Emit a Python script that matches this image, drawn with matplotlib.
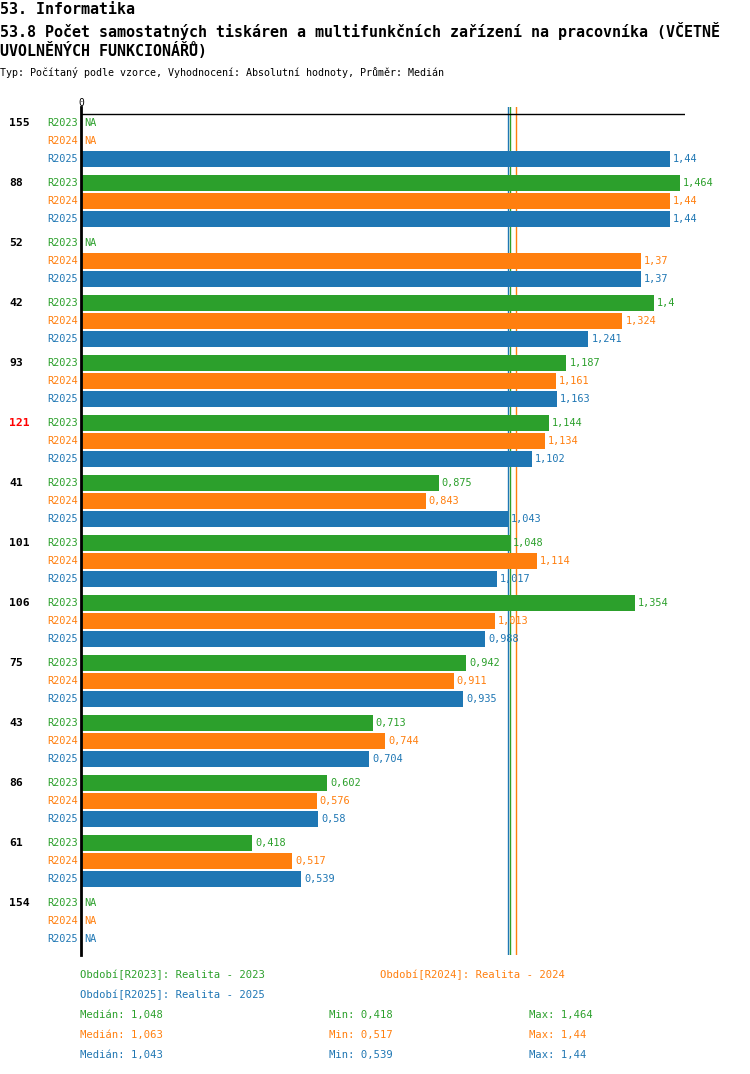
import numpy as np
import matplotlib.pyplot as plt

plt.rcParams['font.family'] = ['DejaVu Sans Mono']

groups = ['155', '88', '52', '42', '93', '121', '41', '101', '106', '75', '43', '86', '61', '154']
highlight = '121'
series = ['R2023', 'R2024', 'R2025']
colors = ['#2ca02c', '#ff7f0e', '#1f77b4']
nan = np.nan
r2023 = [nan, 1.464, nan, 1.4, 1.187, 1.144, 0.875, 1.048, 1.354, 0.942, 0.713, 0.602, 0.418, nan]
r2024 = [nan, 1.44, 1.37, 1.324, 1.161, 1.134, 0.843, 1.114, 1.013, 0.911, 0.744, 0.576, 0.517, nan]
r2025 = [1.44, 1.44, 1.37, 1.241, 1.163, 1.102, 1.043, 1.017, 0.988, 0.935, 0.704, 0.58, 0.539, nan]
values = [r2023, r2024, r2025]
period_names = ['Realita - 2023', 'Realita - 2024', 'Realita - 2025']
medians = [1.048, 1.063, 1.043]
mins = [0.418, 0.517, 0.539]
maxs = [1.464, 1.44, 1.44]


def fmt(v):
    return f'{v:g}'.replace('.', ',')


W, H = 750, 1074
fig = plt.figure(figsize=(W / 100, H / 100), dpi=100)

# axes in pixel layout: x from 81 to 685, y from 107 to 955
left, right, top, bottom = 81, 685, 107, 955
ax = fig.add_axes([left / W, 1 - bottom / H, (right - left) / W, (bottom - top) / H])
ax.set_xlim(0, 1.477)
ax.set_ylim(bottom, top)
for s in ['top', 'right', 'bottom']:
    ax.spines[s].set_visible(False)
ax.spines['left'].set_linewidth(2)
ax.set_xticks([])
ax.set_yticks([])
ax.axhline(114, color='black', lw=1)
ax.text(0, 103, '0', ha='center', va='center', fontsize=7)

fs = 7.4
for si, (name, vals, c) in enumerate(zip(series, values, colors)):
    ax.axvline(medians[si], color=c, lw=1, zorder=1)
    for gi, v in enumerate(vals):
        y = 123 + gi * 60 + si * 18
        ax.text(-0.008, y, name, color=c, fontsize=fs, ha='right', va='center')
        if np.isnan(v):
            ax.annotate('NA', (0, y), xytext=(3, 0), textcoords='offset pixels',
                        color=c, fontsize=fs, va='center')
        else:
            ax.barh(y, v, height=16, color=c, zorder=2)
            ax.annotate(fmt(v), (v, y), xytext=(3, 0), textcoords='offset pixels',
                        color=c, fontsize=fs, va='center')

for gi, g in enumerate(groups):
    y = 123 + gi * 60
    fig.text(9 / W, 1 - y / H, g, fontsize=8.2, fontweight='bold', va='center',
             color='red' if g == highlight else 'black')

# titles
fig.text(0, 1 - 2 / H, '53. Informatika', fontsize=10.8, fontweight='bold', va='top')
fig.text(0, 1 - 31 / H, '53.8 Počet samostatných tiskáren a multifunkčních zařízení na pracovníka (VČETNĚ',
         fontsize=10.8, fontweight='bold', va='center')
fig.text(0, 1 - 51 / H, 'UVOLNĚNÝCH FUNKCIONÁŘŮ)', fontsize=10.8, fontweight='bold', va='center')
fig.text(0, 1 - 73 / H, 'Typ: Počítaný podle vzorce, Vyhodnocení: Absolutní hodnoty, Průměr: Medián',
         fontsize=7.2, va='center')

# footer legend
ffs = 7.6
legend_pos = [(80, 975), (380, 975), (80, 995)]
for si, (x, y) in enumerate(legend_pos):
    fig.text(x / W, 1 - y / H, f'Období[{series[si]}]: {period_names[si]}',
             color=colors[si], fontsize=ffs, va='center')
for si in range(3):
    y = 1015 + si * 20
    fig.text(80 / W, 1 - y / H, f'Medián: {fmt(medians[si])}', color=colors[si], fontsize=ffs, va='center')
    fig.text(329 / W, 1 - y / H, f'Min: {fmt(mins[si])}', color=colors[si], fontsize=ffs, va='center')
    fig.text(529 / W, 1 - y / H, f'Max: {fmt(maxs[si])}', color=colors[si], fontsize=ffs, va='center')

fig.savefig('out.png', dpi=100)
